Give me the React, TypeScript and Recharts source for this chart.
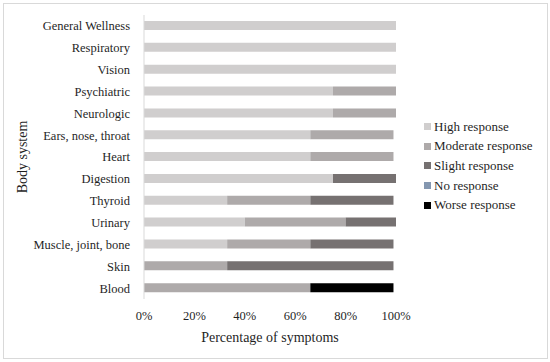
import React from "react";
import { BarChart, Bar, XAxis, YAxis, Legend } from "recharts";

const categories = [
  "General Wellness",
  "Respiratory",
  "Vision",
  "Psychiatric",
  "Neurologic",
  "Ears, nose, throat",
  "Heart",
  "Digestion",
  "Thyroid",
  "Urinary",
  "Muscle, joint, bone",
  "Skin",
  "Blood",
];

const high = [100, 100, 100, 75, 75, 66, 66, 75, 33, 40, 33, 0, 0];
const moderate = [0, 0, 0, 25, 25, 33, 33, 0, 33, 40, 33, 33, 66];
const slight = [0, 0, 0, 0, 0, 0, 0, 25, 33, 20, 33, 66, 0];
const noResponse = [0, 0, 0, 0, 0, 0, 0, 0, 0, 0, 0, 0, 0];
const worse = [0, 0, 0, 0, 0, 0, 0, 0, 0, 0, 0, 0, 33];

const xTicks = [0, 20, 40, 60, 80, 100];

const series = [
  { key: "high", name: "High response", color: "#d0cece" },
  { key: "moderate", name: "Moderate response", color: "#aeaaaa" },
  { key: "slight", name: "Slight response", color: "#767171" },
  { key: "none", name: "No response", color: "#8497b0" },
  { key: "worse", name: "Worse response", color: "#000000" },
];

const data = categories.map((name, i) => ({
  name,
  high: high[i],
  moderate: moderate[i],
  slight: slight[i],
  none: noResponse[i],
  worse: worse[i],
}));

const FONT = "'Liberation Serif', serif";
const TEXT = "#1f1f1f";

function LegendBox() {
  return (
    <div style={{ fontFamily: FONT, fontSize: 13, color: TEXT }}>
      {series.map((s) => (
        <div
          key={s.key}
          style={{ display: "flex", alignItems: "center", height: 19.6 }}
        >
          <span
            style={{
              display: "inline-block",
              width: 7,
              height: 7,
              background: s.color,
              marginRight: 3,
            }}
          />
          <span>{s.name}</span>
        </div>
      ))}
    </div>
  );
}

export default function App() {
  return (
    <div
      style={{
        position: "absolute",
        left: 0,
        top: 0,
        width: 550,
        height: 362,
        background: "#fff",
      }}
    >
      <div
        style={{
          position: "absolute",
          left: 3,
          top: 3,
          width: 545,
          height: 356,
          border: "1px solid #d9d9d9",
          boxSizing: "border-box",
        }}
      />
      <BarChart
        width={550}
        height={362}
        data={data}
        layout="vertical"
        margin={{ top: 15, right: 24, bottom: 17, left: 0 }}
        barSize={9}
      >
        <XAxis
          type="number"
          domain={[0, 100]}
          ticks={xTicks}
          interval={0}
          tickFormatter={(v) => `${v}%`}
          axisLine={false}
          tickLine={false}
          tickMargin={6}
          height={46}
          tick={{ fontFamily: FONT, fontSize: 12.5, fill: TEXT }}
          label={{
            value: "Percentage of symptoms",
            position: "insideBottom",
            offset: 3,
            style: { fontFamily: FONT, fontSize: 14, fill: TEXT },
          }}
        />
        <YAxis
          type="category"
          dataKey="name"
          width={144}
          axisLine={{ stroke: "#d9d9d9" }}
          tickLine={false}
          tickMargin={8}
          interval={0}
          tick={{ fontFamily: FONT, fontSize: 12.5, fill: TEXT }}
          label={{
            value: "Body system",
            angle: -90,
            position: "insideLeft",
            offset: 22,
            style: {
              fontFamily: FONT,
              fontSize: 14,
              fill: TEXT,
              textAnchor: "middle",
            },
          }}
        />
        <Legend
          layout="vertical"
          align="right"
          verticalAlign="top"
          content={() => <LegendBox />}
          wrapperStyle={{ left: 424, top: 117, width: 130 }}
        />
        {series.map((s) => (
          <Bar
            key={s.key}
            dataKey={s.key}
            name={s.name}
            stackId="a"
            fill={s.color}
            isAnimationActive={false}
          />
        ))}
      </BarChart>
    </div>
  );
}
